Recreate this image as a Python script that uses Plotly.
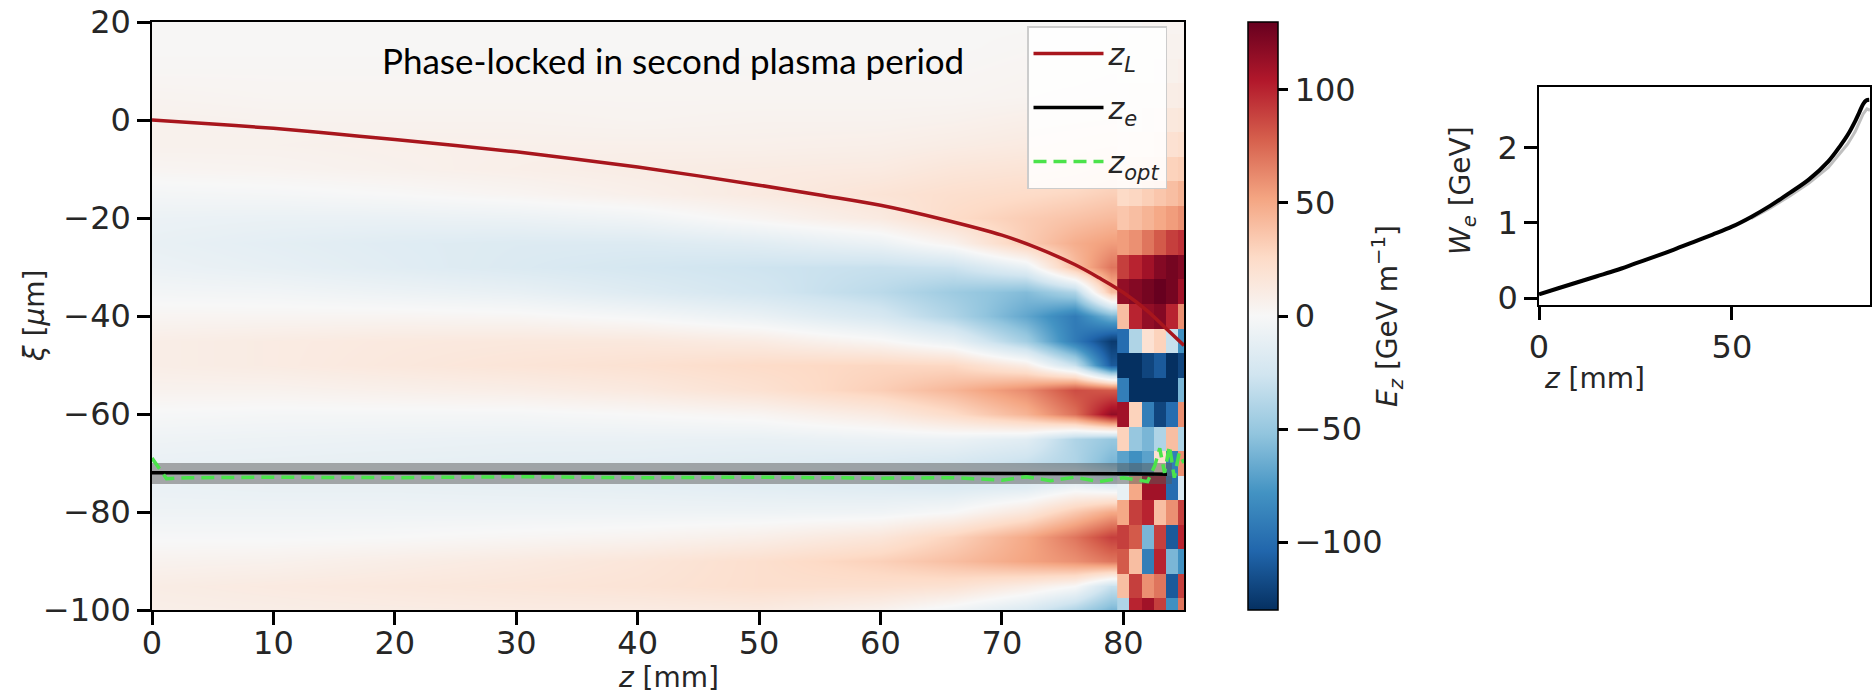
import numpy as np
import plotly.graph_objects as go

# ---------------- data ----------------
# xi rows (um), shared by both heatmap pieces
xi_rows = [20, 15, 10, 5, 0, -5, -10, -15, -20, -25, -30, -35, -40, -45, -50,
           -55, -60, -65, -70, -75, -80, -85, -90, -95, -100]

# smooth part of the Ez map: one list per z column (values along xi_rows), GeV/m
z_cols_smooth = [0, 10, 20, 30, 40, 50, 60, 66, 72, 76, 79]
ez_z00 = [1, 1, 2, 4, 6, 6, 3, -3, -8, -10, -8, -3, 3, 9, 9, 5, -1, -6, -9, -9, -6, -1, 5, 10, 8]
ez_z10 = [1, 1, 2, 3, 5, 6, 4, -2, -9, -13, -11, -4, 3, 11, 11, 5, -2, -7, -10, -10, -6, -1, 6, 12, 9]
ez_z20 = [1, 1, 2, 3, 5, 7, 6, 0, -9, -16, -15, -7, 3, 13, 14, 7, -2, -8, -11, -10, -6, 0, 9, 14, 10]
ez_z30 = [1, 1, 2, 3, 5, 7, 8, 3, -8, -18, -19, -10, 2, 14, 17, 9, -2, -9, -12, -11, -6, 2, 12, 16, 11]
ez_z40 = [1, 1, 2, 3, 4, 7, 10, 7, -5, -18, -23, -17, -2, 14, 20, 13, 0, -9, -13, -12, -6, 4, 16, 18, 11]
ez_z50 = [1, 1, 2, 3, 5, 7, 11, 12, 3, -15, -27, -24, -9, 11, 25, 20, 3, -10, -15, -14, -6, 8, 22, 22, 12]
ez_z60 = [1, 1, 2, 3, 5, 8, 12, 18, 12, -8, -30, -35, -22, 2, 28, 32, 12, -8, -18, -16, -5, 16, 31, 22, 5]
ez_z66 = [1, 1, 2, 3, 6, 10, 16, 22, 25, 5, -28, -47, -40, -10, 27, 44, 25, -8, -22, -18, 0, 30, 40, 20, -5]
ez_z72 = [1, 2, 3, 4, 8, 12, 18, 25, 33, 33, -10, -57, -68, -45, 10, 62, 45, -15, -30, -15, 15, 50, 52, 10, -20]
ez_z76 = [1, 2, 3, 5, 9, 14, 20, 28, 38, 48, 40, -40, -92, -92, -30, 85, 72, -40, -40, -5, 35, 70, 60, 0, -40]
ez_z79 = [2, 3, 4, 6, 10, 16, 24, 32, 42, 55, 70, 40, -60, -125, -110, 80, 115, -50, -60, -10, 50, 90, 70, -30, -60]

# blocky (strongly evolving) end of the map, 1 mm columns
z_cols_blocky = [80, 81, 82, 83, 84, 85]
ez_z80 = [2, 2, 3, 5, 8, 12, 18, 26, 36, 55, 90, 115, 40, -100, -130, -90, 110, 30, -70, -10, 50, 90, 80, 40, -40]
ez_z81 = [2, 3, 4, 6, 9, 14, 20, 28, 40, 60, 100, 120, 100, -40, -130, -130, 30, -50, -80, 50, 90, 80, 40, 90, 100]
ez_z82 = [3, 3, 4, 6, 10, 15, 22, 32, 45, 70, 110, 125, 115, 20, -120, -130, -90, -60, -70, 110, 100, -60, -90, 60, 110]
ez_z83 = [3, 4, 5, 8, 12, 18, 26, 36, 50, 80, 120, 130, 120, 30, -110, -130, -120, -40, 20, 110, 40, 90, 100, 70, 90]
ez_z84 = [4, 5, 6, 9, 14, 20, 30, 40, 55, 90, 125, 125, 100, -30, -130, -130, -100, 40, -90, -100, 60, -110, -60, -110, -80]
ez_z85 = [4, 5, 7, 10, 15, 22, 32, 45, 60, 95, 120, 110, 60, -80, -120, -60, 60, -40, 60, -20, 90, 100, -80, 90, 70]

# laser centroid z_L
zl_z = [0, 5, 10, 15, 20, 25, 30, 35, 40, 45, 50, 55, 60, 65, 70, 73, 76, 78, 80, 82, 83.5, 85]
zl_xi = [0, -0.8, -1.7, -2.8, -4.0, -5.2, -6.5, -8.0, -9.6, -11.4, -13.3, -15.3, -17.4,
         -20.2, -23.5, -26.2, -29.5, -32.2, -35.2, -39.0, -42.5, -46.0]

# electron bunch z_e and its extent
ze_z = [0, 20, 40, 60, 80, 83.6]
ze_xi = [-72.0, -72.0, -72.0, -72.1, -72.2, -72.3]
beam_z = [0, 84]
beam_top = [-70.0, -70.0]
beam_bot = [-74.3, -74.3]

# optimal phase z_opt
zopt_z = [0, 0.4, 1.2, 3, 10, 20, 30, 40, 50, 60, 66, 70, 72, 74, 76, 78, 80, 82,
          82.6, 83.0, 83.4, 83.8, 84.2, 84.6, 85]
zopt_xi = [-69, -70.5, -73.2, -73.0, -72.9, -73.0, -72.8, -73.0, -72.9, -73.1, -73.0,
           -73.5, -72.8, -73.6, -72.9, -73.8, -73.0, -73.8, -70.5, -67.0, -72.0, -66.5,
           -73.0, -68.0, -70.0]

# right panel: electron energy
we_z = [0, 5, 10, 15, 20, 25, 30, 35, 40, 45, 50, 55, 60, 65, 70, 75, 78, 80, 82, 83, 84, 84.8, 85.6]
we_gev = [0.05, 0.13, 0.21, 0.29, 0.37, 0.46, 0.55, 0.645, 0.745, 0.845, 0.95, 1.08, 1.23,
          1.40, 1.58, 1.82, 2.02, 2.17, 2.36, 2.47, 2.58, 2.63, 2.64]
we_low_z = [55, 60, 65, 70, 75, 78, 80, 82, 83, 84, 85, 85.8]
we_low = [1.06, 1.20, 1.36, 1.53, 1.74, 1.92, 2.05, 2.22, 2.33, 2.45, 2.52, 2.50]

# ---------------- figure ----------------
W, H = 1872, 697
FONT = "DejaVu Sans"
TXT = "#262626"
TICK = 32
TITLE = 28

rdbu_r = [[0.0, "rgb(5,48,97)"], [0.1, "rgb(33,102,172)"], [0.2, "rgb(67,147,195)"],
          [0.3, "rgb(146,197,222)"], [0.4, "rgb(209,229,240)"], [0.5, "rgb(247,247,247)"],
          [0.6, "rgb(253,219,199)"], [0.7, "rgb(244,165,130)"], [0.8, "rgb(214,96,77)"],
          [0.9, "rgb(178,24,43)"], [1.0, "rgb(103,0,31)"]]

ez_smooth = np.array([ez_z00, ez_z10, ez_z20, ez_z30, ez_z40, ez_z50, ez_z60,
                      ez_z66, ez_z72, ez_z76, ez_z79]).T
ez_blocky = np.array([ez_z80, ez_z81, ez_z82, ez_z83, ez_z84, ez_z85]).T

fig = go.Figure()
fig.add_trace(go.Heatmap(
    x=z_cols_smooth, y=xi_rows, z=ez_smooth, zsmooth="best",
    colorscale=rdbu_r, zmin=-130, zmax=130, showlegend=False, hoverinfo="skip",
    colorbar=dict(x=1248 / W, xanchor="left", y=1 - 610 / H, yanchor="bottom",
                  len=588 / H, lenmode="fraction", thickness=30, thicknessmode="pixels",
                  xpad=0, ypad=0, outlinewidth=1.5, outlinecolor="black",
                  ticks="outside", ticklen=10, tickwidth=2.5, tickcolor="black",
                  tickvals=[-100, -50, 0, 50, 100],
                  tickfont=dict(family=FONT, size=TICK, color=TXT)),
))
fig.add_trace(go.Heatmap(
    x=z_cols_blocky, y=xi_rows, z=ez_blocky, zsmooth=False,
    colorscale=rdbu_r, zmin=-130, zmax=130, showscale=False, showlegend=False,
    hoverinfo="skip",
))
# beam extent band
fig.add_trace(go.Scatter(x=beam_z, y=beam_bot, mode="lines", line=dict(width=0),
                         showlegend=False, hoverinfo="skip"))
fig.add_trace(go.Scatter(x=beam_z, y=beam_top, mode="lines", line=dict(width=0),
                         fill="tonexty", fillcolor="rgba(90,90,90,0.5)",
                         showlegend=False, hoverinfo="skip"))
fig.add_trace(go.Scatter(x=zl_z, y=zl_xi, mode="lines", name="<i>z</i><sub><i>L</i></sub>",
                         legendgroup="a",
                         line=dict(color="#a8161d", width=3.5, shape="spline")))
fig.add_trace(go.Scatter(x=ze_z, y=ze_xi, mode="lines", name="<i>z</i><sub><i>e</i></sub>",
                         legendgroup="b",
                         line=dict(color="black", width=3.5)))
fig.add_trace(go.Scatter(x=zopt_z, y=zopt_xi, mode="lines",
                         name="<i>z</i><sub><i>opt</i></sub>", legendgroup="c",
                         line=dict(color="#4be34b", width=3.5, dash="13px,7px")))

# right panel
fig.add_trace(go.Scatter(x=we_low_z, y=we_low, mode="lines", xaxis="x2", yaxis="y2",
                         line=dict(color="rgba(0,0,0,0.25)", width=3), showlegend=False,
                         hoverinfo="skip"))
fig.add_trace(go.Scatter(x=we_z, y=we_gev, mode="lines", xaxis="x2", yaxis="y2",
                         line=dict(color="black", width=4, shape="spline"),
                         showlegend=False))

axis_common = dict(ticks="outside", ticklen=13, tickwidth=2.5, tickcolor="black",
                   showline=True, linecolor="black", linewidth=1.5, mirror=True,
                   showgrid=False, zeroline=False,
                   tickfont=dict(family=FONT, size=TICK, color=TXT))

fig.update_layout(
    width=W, height=H, margin=dict(l=0, r=0, t=0, b=0),
    template="none", paper_bgcolor="white", plot_bgcolor="white",
    xaxis=dict(domain=[152 / W, 1184 / W], range=[0, 85], tickvals=list(range(0, 81, 10)),
               anchor="y", ticklabelstandoff=-9, **axis_common),
    yaxis=dict(domain=[1 - 610 / H, 1 - 22 / H], range=[-100, 20],
               tickvals=list(range(-100, 21, 20)), anchor="x", **axis_common),
    xaxis2=dict(domain=[1539 / W, 1870 / W], range=[0, 85.8], tickvals=[0, 50],
                anchor="y2", **axis_common),
    yaxis2=dict(domain=[1 - 305 / H, 1 - 87 / H], range=[-0.093, 2.81], tickvals=[0, 1, 2],
                anchor="x2", **axis_common),
    showlegend=True,
    legend=dict(x=1167 / W, xanchor="right", y=1 - 26 / H, yanchor="top",
                traceorder="grouped", tracegroupgap=12, itemwidth=70,
                bgcolor="rgba(255,255,255,0.85)", bordercolor="#cccccc", borderwidth=1.5,
                font=dict(family=FONT, size=30, color=TXT)),
)

ann_font = dict(family=FONT, size=TITLE, color=TXT)
fig.add_annotation(text="<i>z</i> [mm]", x=668 / W, y=1 - 677 / H, xref="paper", yref="paper",
                   showarrow=False, font=ann_font, xanchor="center", yanchor="middle")
fig.add_annotation(text="<i>ξ</i> [<i>μ</i>m]", x=34 / W, y=1 - 316 / H, xref="paper",
                   yref="paper", showarrow=False, font=ann_font, textangle=-90,
                   xanchor="center", yanchor="middle")
fig.add_annotation(text="<i>E</i><sub><i>z</i></sub> [GeV m<sup>−1</sup>]", x=1387 / W,
                   y=1 - 316 / H, xref="paper", yref="paper", showarrow=False, font=ann_font,
                   textangle=-90, xanchor="center", yanchor="middle")
fig.add_annotation(text="<i>z</i> [mm]", x=1594 / W, y=1 - 378 / H, xref="paper",
                   yref="paper", showarrow=False, font=ann_font, xanchor="center",
                   yanchor="middle")
fig.add_annotation(text="<i>W</i><sub><i>e</i></sub> [GeV]", x=1462 / W, y=1 - 191 / H,
                   xref="paper", yref="paper", showarrow=False, font=ann_font, textangle=-90,
                   xanchor="center", yanchor="middle")
fig.add_annotation(text="Phase-locked in second plasma period", x=380 / W, y=1 - 60 / H,
                   xref="paper", yref="paper", showarrow=False, xanchor="left",
                   yanchor="middle", font=dict(family="Lato", size=35, color="black"))

fig.write_html("out.html")
